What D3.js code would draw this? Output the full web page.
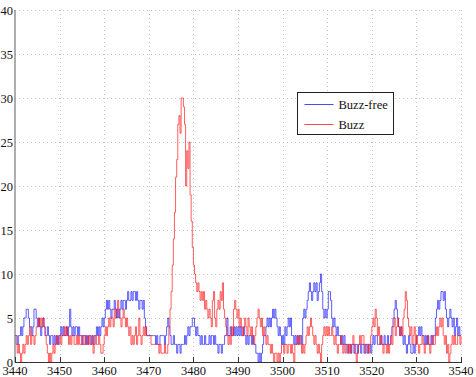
<!DOCTYPE html>
<html>
<head>
<meta charset="utf-8">
<script src="https://cdn.jsdelivr.net/npm/d3@7"></script>
<style>
  body { margin: 0; background: #fff; }
  text { font-family: "Liberation Serif", "Times New Roman", serif; }
</style>
</head>
<body>
<div id="chart"></div>
<script>
//~~~~~~~~~~~~~~~~~~DATA
// samples every 0.25 from 3440 to 3540 (stairs plot)
let sampleStart = 3440;
let sampleStep = 0.25;

let buzzFree = [
  3,3,2,3, 3,4,3,4, 5,5,6,6, 5,4,4,3, 4,6,6,5,
  4,5,4,3, 4,5,4,3, 3,4,3,2, 3,3,2,3, 2,3,2,3,
  3,4,3,4, 3,3,4,3, 4,6,4,3, 4,3,4,4, 3,4,3,3,
  2,3,3,2, 3,2,3,3, 2,3,2,3, 3,4,3,4, 3,4,5,4,
  5,6,7,6, 7,6,5,6, 6,7,6,5, 6,5,6,7, 6,7,7,6,
  7,8,7,7, 8,7,8,8, 7,8,7,6, 7,7,6,7, 5,4,3,3,
  3,3,3,3, 3,3,2,3, 2,2,3,3, 3,3,2,3, 4,5,4,3,
  2,2,3,2, 2,1,2,2, 1,2,2,2, 3,2,3,4, 3,4,4,5,
  5,4,3,4, 3,3,2,3, 2,2,3,2, 2,2,3,2, 3,3,2,3,
  2,2,1,2, 2,1,2,2, 3,3,5,3, 3,4,3,3, 4,3,4,3,
  4,3,4,3, 3,4,3,2, 3,2,3,3, 2,3,2,2, 1,1,0,1,
  0,1,2,3, 3,4,5,4, 5,4,5,6, 5,6,5,4, 3,4,3,2,
  3,2,4,3, 4,5,4,5, 3,3,2,3, 2,3,2,3, 3,2,5,6,
  5,6,7,8, 9,8,7,8, 9,8,9,7, 8,9,10,8, 6,5,6,5,
  6,8,8,7, 5,4,5,4, 3,4,3,3, 2,3,2,3, 2,2,1,2,
  2,1,2,2, 1,2,2,1, 2,2,1,2, 2,1,2,2, 1,2,2,1,
  2,3,2,3, 3,2,2,2, 3,2,2,3, 2,2,3,2, 2,3,4,5,
  6,7,6,5, 4,3,4,3, 2,3,2,1, 2,3,2,1, 1,2,1,2,
  3,3,4,3, 4,3,3,2, 3,2,3,2, 2,3,2,3, 3,5,6,7,
  6,7,8,8, 7,8,6,5, 4,5,6,5, 4,5,3,4, 5,3,4,3,
  3
];

let buzz = [
  3,2,1,2, 1,0,1,2, 1,2,3,2, 3,4,2,3, 3,2,3,4,
  4,5,4,5, 4,5,4,3, 2,1,0,1, 0,1,2,1, 2,3,2,2,
  3,2,3,3, 4,3,4,3, 2,3,2,3, 3,2,2,3, 2,3,2,2,
  3,2,2,3, 2,2,3,2, 2,3,1,2, 3,2,2,3, 2,1,1,2,
  3,4,3,4, 5,4,5,5, 4,6,5,6, 7,6,5,4, 5,6,5,4,
  5,4,3,4, 2,3,2,3, 4,2,3,5, 3,2,3,4, 3,4,3,3,
  3,3,2,2, 2,2,2,2, 2,1,2,1, 1,1,2,1, 1,2,4,6,
  8,11,14,17, 21,23,27,28, 26,30,30,29, 27,20,24,22, 25,19,16,13,
  11,10,9,8, 9,8,7,8, 7,8,6,7, 6,5,6,5, 4,7,8,5,
  4,6,7,6, 8,7,9,6, 5,4,3,2, 3,2,4,3, 6,7,6,5,
  6,4,5,4, 3,4,5,4, 3,5,4,3, 4,3,2,3, 4,5,6,5,
  4,5,3,4, 3,2,3,2, 2,1,2,1, 0,1,1,0, 1,0,1,2,
  2,1,2,2, 1,2,2,1, 2,1,0,2, 2,3,2,3, 2,1,2,1,
  2,3,4,3, 4,5,4,3, 2,3,2,1, 2,1,0,2, 3,4,3,4,
  3,4,3,3, 4,3,2,3, 2,1,2,2, 3,2,1,2, 1,2,2,1,
  2,1,2,3, 2,1,0,1, 2,3,2,3, 3,2,1,2, 2,1,2,3,
  4,5,4,6, 5,3,4,2, 3,2,1,2, 2,1,2,1, 2,3,2,4,
  5,3,4,5, 4,3,4,3, 5,6,8,7, 5,4,3,4, 2,3,4,2,
  3,2,1,2, 2,3,2,1, 2,2,3,2, 1,2,3,2, 2,3,4,3,
  4,5,4,5, 3,2,3,1, 2,0,1,2, 3,2,3,2, 2,3,3,2,
  3
];

let xTicks = [3440, 3450, 3460, 3470, 3480, 3490, 3500, 3510, 3520, 3530, 3540];
let yTicks = [0, 5, 10, 15, 20, 25, 30, 35, 40];
let seriesNames = ['Buzz-free', 'Buzz'];
let seriesColors = ['#1a1aff', '#ff1a1a'];

//~~~~~~~~~~~~~~~~~~VARIABLES
let width = 476;
let height = 377;
let plotLeft = 15, plotRight = 461, plotTop = 10, plotBottom = 362;

let x = d3.scaleLinear().domain([3440, 3540]).range([plotLeft, plotRight]);
let y = d3.scaleLinear().domain([0, 40]).range([plotBottom, plotTop]);

let svg = d3.select('#chart')
  .append('svg')
  .attr('width', width)
  .attr('height', height);

//~~~~~~~~~~~~~~~~~~GRID
svg.append('g')
  .selectAll('line')
  .data(xTicks.slice(1))
  .enter()
  .append('line')
  .attr('x1', d => Math.round(x(d)) + 0.5)
  .attr('x2', d => Math.round(x(d)) + 0.5)
  .attr('y1', plotTop)
  .attr('y2', plotBottom)
  .attr('stroke', '#c4c4c4')
  .attr('stroke-dasharray', '1,3');

svg.append('g')
  .selectAll('line')
  .data(yTicks.slice(1))
  .enter()
  .append('line')
  .attr('x1', plotLeft)
  .attr('x2', plotRight)
  .attr('y1', d => Math.round(y(d)) + 0.5)
  .attr('y2', d => Math.round(y(d)) + 0.5)
  .attr('stroke', '#c4c4c4')
  .attr('stroke-dasharray', '1,3');

//~~~~~~~~~~~~~~~~~~STAIRS
let line = d3.line()
  .x((d, i) => x(sampleStart + i * sampleStep))
  .y(d => y(d))
  .curve(d3.curveStepAfter);

[buzzFree, buzz].forEach(function(series, k) {
  svg.append('path')
    .datum(series)
    .attr('d', line)
    .attr('fill', 'none')
    .attr('stroke', seriesColors[k])
    .attr('stroke-width', 0.7);
});

//~~~~~~~~~~~~~~~~~~AXES
svg.append('line')
  .attr('x1', plotLeft).attr('x2', plotLeft)
  .attr('y1', plotTop).attr('y2', plotBottom + 0.5)
  .attr('stroke', '#777')
  .attr('stroke-width', 1.2);

svg.append('line')
  .attr('x1', plotLeft).attr('x2', plotRight + 1)
  .attr('y1', plotBottom + 0.5).attr('y2', plotBottom + 0.5)
  .attr('stroke', '#333');

// inward ticks on the bottom axis
svg.append('g')
  .selectAll('line')
  .data(xTicks)
  .enter()
  .append('line')
  .attr('x1', d => Math.round(x(d)) + 0.5)
  .attr('x2', d => Math.round(x(d)) + 0.5)
  .attr('y1', plotBottom)
  .attr('y2', plotBottom - 5)
  .attr('stroke', '#333');

svg.append('g')
  .selectAll('text')
  .data(xTicks)
  .enter()
  .append('text')
  .attr('x', d => x(d))
  .attr('y', 375)
  .attr('text-anchor', 'middle')
  .attr('font-size', 12.5)
  .attr('fill', '#111')
  .text(d => d);

svg.append('g')
  .selectAll('text')
  .data(yTicks)
  .enter()
  .append('text')
  .attr('x', 13)
  .attr('y', d => y(d) + 4.5)
  .attr('text-anchor', 'end')
  .attr('font-size', 12.5)
  .attr('fill', '#111')
  .text(d => d);

//~~~~~~~~~~~~~~~~~~LEGEND
let legend = svg.append('g')
  .attr('transform', 'translate(297.5,92.5)');

legend.append('rect')
  .attr('width', 96)
  .attr('height', 42)
  .attr('fill', '#fff')
  .attr('stroke', '#222');

let item = legend.selectAll('.legend')
  .data(seriesNames)
  .enter()
  .append('g')
  .attr('class', 'legend')
  .attr('transform', (d, i) => 'translate(0,' + (12 + i * 20) + ')');

item.append('line')
  .attr('x1', 7).attr('x2', 36)
  .attr('stroke', (d, i) => seriesColors[i])
  .attr('stroke-width', 0.8);

item.append('text')
  .attr('x', 41)
  .attr('y', 4)
  .attr('font-size', 12.5)
  .attr('fill', '#111')
  .text(d => d);
</script>
</body>
</html>
